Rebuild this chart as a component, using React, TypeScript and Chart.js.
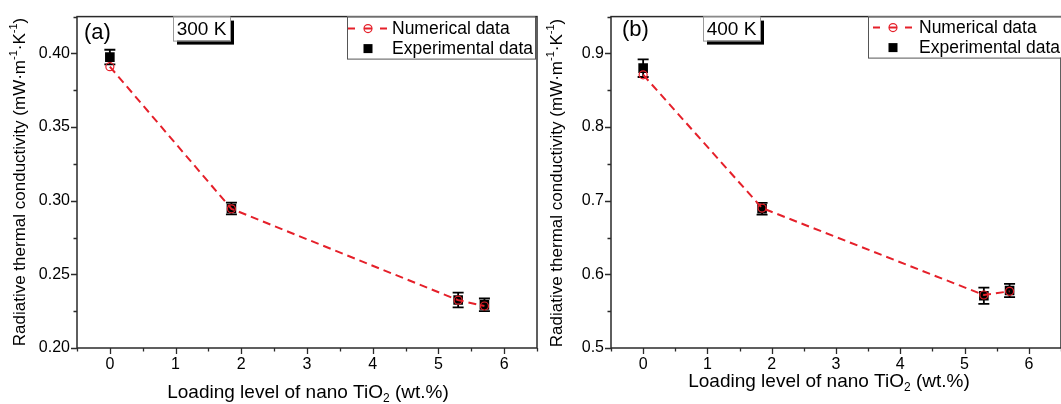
import React, { useEffect, useRef } from "react";
import { Chart, registerables } from "chart.js";

Chart.register(...registerables);

// ---------- data ----------
const loading = [0, 1.85, 5.3, 5.7];
const numericalA = [0.391, 0.2945, 0.2325, 0.2285];
const experimentalA = [0.3975, 0.2947, 0.2326, 0.2293];
const errorA = [0.005, 0.004, 0.005, 0.0043];
const numericalB = [0.871, 0.69, 0.572, 0.577];
const experimentalB = [0.88, 0.689, 0.571, 0.578];
const errorB = [0.012, 0.008, 0.011, 0.009];
const xTicks = [0, 1, 2, 3, 4, 5, 6];
const yTicksA = [0.2, 0.25, 0.3, 0.35, 0.4];
const yTicksB = [0.5, 0.6, 0.7, 0.8, 0.9];
const legendLabels = ["Numerical data", "Experimental data"];
const panelLabels = ["(a)", "(b)"];
const temperatures = ["300 K", "400 K"];
const yTitleParts = [
  { t: "Radiative thermal conductivity (mW\u00b7m", s: 0 },
  { t: "-1", s: 1 },
  { t: "\u00b7K", s: 0 },
  { t: "-1", s: 1 },
  { t: ")", s: 0 },
];
const xTitleParts = [
  { t: "Loading level of nano TiO", s: 0 },
  { t: "2", s: -1 },
  { t: " (wt.%)", s: 0 },
];

const FONT = '"Liberation Sans", Arial, sans-serif';
const RED = "#e5202a";

type Cfg = {
  canvasLeft: number;
  canvasWidth: number;
  padTop: number;
  padRight: number;
  yAxisWidth: number;
  yMin: number;
  yMax: number;
  yMinorStep: number;
  yTicks: number[];
  decimals: number;
  numerical: number[];
  experimental: number[];
  errors: number[];
  label: string;
  temp: string;
  yTitleX: number;
  yTitleY: number;
  xTitleX: number;
  xTitleY: number;
  labelDx: number;
  labelDy: number;
  tempDx: number;
  tempW: number;
  tempH: number;
  legendDx: number;
  legendW: number;
  legendH: number;
  row1: number;
  row2: number;
  markerDx: number;
  textDx: number;
};

const panels: Cfg[] = [
  {
    canvasLeft: 0,
    canvasWidth: 545,
    padTop: 8,
    padRight: 8,
    yAxisWidth: 77,
    yMin: 0.2,
    yMax: 0.425,
    yMinorStep: 0.025,
    yTicks: yTicksA,
    decimals: 2,
    numerical: numericalA,
    experimental: experimentalA,
    errors: errorA,
    label: panelLabels[0],
    temp: temperatures[0],
    yTitleX: 20,
    yTitleY: 182,
    xTitleX: 308,
    xTitleY: 393,
    labelDx: 7,
    labelDy: 16,
    tempDx: 96,
    tempW: 57,
    tempH: 24,
    legendDx: 270,
    legendW: 188,
    legendH: 42,
    row1: 12,
    row2: 32,
    markerDx: 21,
    textDx: 45,
  },
  {
    canvasLeft: 530,
    canvasWidth: 540,
    padTop: 12,
    padRight: 9,
    yAxisWidth: 81,
    yMin: 0.5,
    yMax: 0.95,
    yMinorStep: 0.05,
    yTicks: yTicksB,
    decimals: 1,
    numerical: numericalB,
    experimental: experimentalB,
    errors: errorB,
    label: panelLabels[1],
    temp: temperatures[1],
    yTitleX: 27,
    yTitleY: 183,
    xTitleX: 299,
    xTitleY: 382,
    labelDx: 11,
    labelDy: 13,
    tempDx: 92,
    tempW: 57,
    tempH: 24,
    legendDx: 257,
    legendW: 220,
    legendH: 41,
    row1: 11,
    row2: 31,
    markerDx: 25,
    textDx: 51,
  },
];

function drawParts(
  ctx: CanvasRenderingContext2D,
  parts: { t: string; s: number }[],
  size: number,
  smallSize: number,
  shift: number
) {
  const widths = parts.map((p) => {
    ctx.font = `${p.s ? smallSize : size}px ${FONT}`;
    return ctx.measureText(p.t).width;
  });
  const total = widths.reduce((a, b) => a + b, 0);
  let x = -total / 2;
  parts.forEach((p, i) => {
    ctx.font = `${p.s ? smallSize : size}px ${FONT}`;
    ctx.fillText(p.t, x, p.s === 1 ? -shift : p.s === -1 ? shift : 0);
    x += widths[i];
  });
}

function makePlugin(cfg: Cfg) {
  return {
    id: "panelDecor",
    beforeDatasetsDraw(chart: any) {
      const { ctx } = chart;
      const xs = chart.scales.x;
      const ys = chart.scales.y;
      ctx.save();
      ctx.strokeStyle = "#000";
      ctx.lineWidth = 1.8;
      cfg.experimental.forEach((v, i) => {
        const px = xs.getPixelForValue(loading[i]);
        const t = ys.getPixelForValue(v + cfg.errors[i]);
        const b = ys.getPixelForValue(v - cfg.errors[i]);
        ctx.beginPath();
        ctx.moveTo(px, t);
        ctx.lineTo(px, b);
        ctx.moveTo(px - 5.5, t);
        ctx.lineTo(px + 5.5, t);
        ctx.moveTo(px - 5.5, b);
        ctx.lineTo(px + 5.5, b);
        ctx.stroke();
      });
      ctx.restore();
    },
    afterDraw(chart: any) {
      const { ctx, chartArea: ca } = chart;
      const xs = chart.scales.x;
      const ys = chart.scales.y;
      ctx.save();
      // frame
      ctx.strokeStyle = "#2a2a2a";
      ctx.lineWidth = 1.5;
      ctx.strokeRect(ca.left, ca.top, ca.right - ca.left, ca.bottom - ca.top);
      // ticks
      ctx.beginPath();
      const xmin = xs.min;
      const xmax = xs.max;
      for (let k = 0; xmin + k * 0.5 <= xmax + 1e-9; k++) {
        const v = xmin + k * 0.5;
        const major = xTicks.some((t) => Math.abs(t - v) < 1e-9);
        const px = Math.round(xs.getPixelForValue(v)) + 0.5;
        ctx.moveTo(px, ca.bottom);
        ctx.lineTo(px, ca.bottom + (major ? 6 : 3.5));
      }
      const n = Math.round((cfg.yMax - cfg.yMin) / cfg.yMinorStep);
      for (let k = 0; k <= n; k++) {
        const v = cfg.yMin + k * cfg.yMinorStep;
        const major = cfg.yTicks.some((t) => Math.abs(t - v) < 1e-9);
        const py = Math.round(ys.getPixelForValue(v)) + 0.5;
        ctx.moveTo(ca.left, py);
        ctx.lineTo(ca.left - (major ? 6 : 3.5), py);
      }
      ctx.lineWidth = 1.3;
      ctx.stroke();

      ctx.fillStyle = "#000";
      ctx.textBaseline = "middle";
      ctx.textAlign = "left";
      // y title
      ctx.save();
      ctx.translate(cfg.yTitleX, cfg.yTitleY);
      ctx.rotate(-Math.PI / 2);
      drawParts(ctx, yTitleParts, 17, 11, 6);
      ctx.restore();
      // x title
      ctx.save();
      ctx.translate(cfg.xTitleX, cfg.xTitleY);
      drawParts(ctx, xTitleParts, 19, 12, 6);
      ctx.restore();

      // panel label
      ctx.font = `22px ${FONT}`;
      ctx.fillText(cfg.label, ca.left + cfg.labelDx, ca.top + cfg.labelDy);

      // temperature box with shadow
      const tx = ca.left + cfg.tempDx;
      const ty = ca.top;
      ctx.fillStyle = "#000";
      ctx.fillRect(tx + 4, ty + 4, cfg.tempW, cfg.tempH);
      ctx.fillStyle = "#fff";
      ctx.fillRect(tx, ty, cfg.tempW, cfg.tempH);
      ctx.strokeStyle = "#9a9a9a";
      ctx.lineWidth = 1;
      ctx.strokeRect(tx + 0.5, ty + 0.5, cfg.tempW, cfg.tempH);
      ctx.fillStyle = "#000";
      ctx.font = `19px ${FONT}`;
      ctx.textAlign = "center";
      ctx.fillText(cfg.temp, tx + cfg.tempW / 2, ty + cfg.tempH / 2 + 1);
      ctx.textAlign = "left";

      // legend
      const lx = ca.left + cfg.legendDx;
      const ly = ca.top;
      ctx.fillStyle = "#fff";
      ctx.fillRect(lx, ly, cfg.legendW, cfg.legendH);
      ctx.strokeStyle = "#555";
      ctx.lineWidth = 1;
      ctx.strokeRect(lx + 0.5, ly + 0.5, cfg.legendW, cfg.legendH);
      const mx = lx + cfg.markerDx;
      const r1 = ly + cfg.row1;
      const r2 = ly + cfg.row2;
      ctx.strokeStyle = RED;
      ctx.lineWidth = 2;
      ctx.beginPath();
      ctx.moveTo(mx - 20, r1);
      ctx.lineTo(mx - 13, r1);
      ctx.moveTo(mx - 4, r1);
      ctx.lineTo(mx + 4, r1);
      ctx.moveTo(mx + 12, r1);
      ctx.lineTo(mx + 19, r1);
      ctx.stroke();
      ctx.lineWidth = 1.2;
      ctx.beginPath();
      ctx.arc(mx, r1, 4, 0, Math.PI * 2);
      ctx.stroke();
      ctx.fillStyle = "#000";
      ctx.fillRect(mx - 4.5, r2 - 4.5, 9, 9);
      ctx.font = `17.5px ${FONT}`;
      ctx.fillText(legendLabels[0], lx + cfg.textDx, r1 + 1);
      ctx.fillText(legendLabels[1], lx + cfg.textDx, r2 + 1);
      ctx.restore();
    },
  };
}

function Panel({ cfg }: { cfg: Cfg }) {
  const ref = useRef<HTMLCanvasElement | null>(null);
  useEffect(() => {
    if (!ref.current) return;
    const chart = new Chart(ref.current, {
      type: "scatter",
      data: {
        datasets: [
          {
            type: "line",
            label: legendLabels[0],
            data: loading.map((x, i) => ({ x, y: cfg.numerical[i] })),
            borderColor: RED,
            borderWidth: 2,
            borderDash: [8, 5],
            backgroundColor: "rgba(0,0,0,0)",
            pointRadius: 4,
            pointBorderWidth: 1.2,
            pointBorderColor: RED,
            pointBackgroundColor: "rgba(0,0,0,0)",
            pointStyle: "circle",
            tension: 0,
            fill: false,
          } as any,
          {
            type: "scatter",
            label: legendLabels[1],
            data: loading.map((x, i) => ({ x, y: cfg.experimental[i] })),
            pointStyle: "rect",
            pointRadius: 6.8,
            pointBorderWidth: 0,
            pointBackgroundColor: "#000",
            pointBorderColor: "#000",
          } as any,
        ],
      },
      options: {
        animation: false,
        responsive: false,
        devicePixelRatio: 1,
        layout: {
          autoPadding: false,
          padding: { left: 0, right: cfg.padRight, top: cfg.padTop, bottom: 0 },
        },
        plugins: {
          legend: { display: false },
          tooltip: { enabled: false },
          title: { display: false },
        },
        scales: {
          x: {
            type: "linear",
            min: -0.5,
            max: 6.5,
            grid: { display: false, drawTicks: false },
            border: { display: false },
            afterBuildTicks: (s: any) => {
              s.ticks = xTicks.map((value) => ({ value }));
            },
            afterFit: (s: any) => {
              s.height = 56;
            },
            ticks: {
              padding: 7,
              color: "#000",
              font: { family: FONT, size: 16 },
              callback: (v: any) => String(v),
            },
          },
          y: {
            type: "linear",
            min: cfg.yMin,
            max: cfg.yMax,
            grid: { display: false, drawTicks: false },
            border: { display: false },
            afterBuildTicks: (s: any) => {
              s.ticks = cfg.yTicks.map((value) => ({ value }));
            },
            afterFit: (s: any) => {
              s.width = cfg.yAxisWidth;
            },
            ticks: {
              padding: 7,
              color: "#000",
              font: { family: FONT, size: 16 },
              callback: (v: any) => Number(v).toFixed(cfg.decimals),
            },
          },
        },
      } as any,
      plugins: [makePlugin(cfg)],
    });
    return () => chart.destroy();
  }, [cfg]);
  return (
    <canvas
      ref={ref}
      width={cfg.canvasWidth}
      height={404}
      style={{
        position: "absolute",
        left: cfg.canvasLeft,
        top: 0,
        width: cfg.canvasWidth,
        height: 404,
      }}
    />
  );
}

export default function App() {
  return (
    <div
      style={{
        position: "fixed",
        left: 0,
        top: 0,
        width: 1061,
        height: 404,
        overflow: "hidden",
        background: "#fff",
      }}
    >
      {panels.map((p, i) => (
        <Panel key={i} cfg={p} />
      ))}
    </div>
  );
}
